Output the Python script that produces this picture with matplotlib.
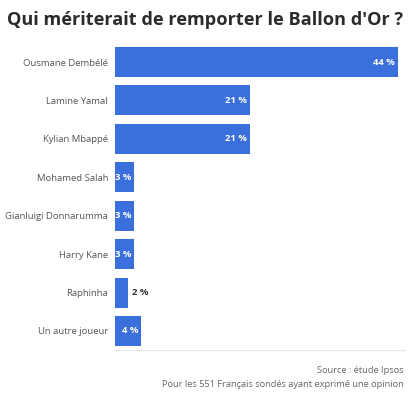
import matplotlib
matplotlib.use('Agg')
import matplotlib.pyplot as plt
from matplotlib.transforms import offset_copy

plt.rcParams['font.family'] = ['Open Sans', 'DejaVu Sans']

joueurs = ['Ousmane Dembélé', 'Lamine Yamal', 'Kylian Mbappé', 'Mohamed Salah',
           'Gianluigi Donnarumma', 'Harry Kane', 'Raphinha', 'Un autre joueur']
pourcents = [44, 21, 21, 3, 3, 3, 2, 4]
TITRE = "Qui mériterait de remporter le Ballon d'Or ?"
SOURCE = 'Source : étude Ipsos'
NOTE = 'Pour les 551 Français sondés ayant exprimé une opinion'

BLEU = '#3b6fdc'

fig = plt.figure(figsize=(4.1, 3.93), dpi=100)
ax = fig.add_axes([0.2805, 0.109, 0.708, 0.782])

pos = range(len(joueurs))
ax.barh(pos, pourcents, height=0.78, color=BLEU)
ax.set_ylim(7.5, -0.5)
ax.set_xlim(0, 45.2)
ax.set_yticks(list(pos))
ax.set_yticklabels(joueurs, fontsize=6.8, color='#555555')
ax.tick_params(axis='y', length=0, pad=5)
ax.set_xticks([])
for s in ['top', 'right', 'left']:
    ax.spines[s].set_visible(False)
ax.spines['bottom'].set_color('#e6e6e6')
ax.spines['bottom'].set_linewidth(0.8)

for i, v in enumerate(pourcents):
    txt = '{} %'.format(v)
    if v >= 3:
        tr = offset_copy(ax.transData, fig=fig, x=-2, y=0, units='points')
        ax.text(v, i, txt, transform=tr, ha='right', va='center',
                fontsize=6.8, fontweight='bold', color='white')
    else:
        tr = offset_copy(ax.transData, fig=fig, x=3, y=0, units='points')
        ax.text(v, i, txt, transform=tr, ha='left', va='center',
                fontsize=6.8, fontweight='bold', color='#333333')

fig.text(0.017, 0.948, TITRE, fontsize=13.1, fontweight='bold',
         color='#2b2b2b', ha='left', va='center')
fig.text(0.985, 0.058, SOURCE, fontsize=6.65, color='#666666', ha='right', va='center')
fig.text(0.985, 0.022, NOTE, fontsize=6.65, color='#666666', ha='right', va='center')

fig.savefig('out.png', dpi=100, facecolor='white')
